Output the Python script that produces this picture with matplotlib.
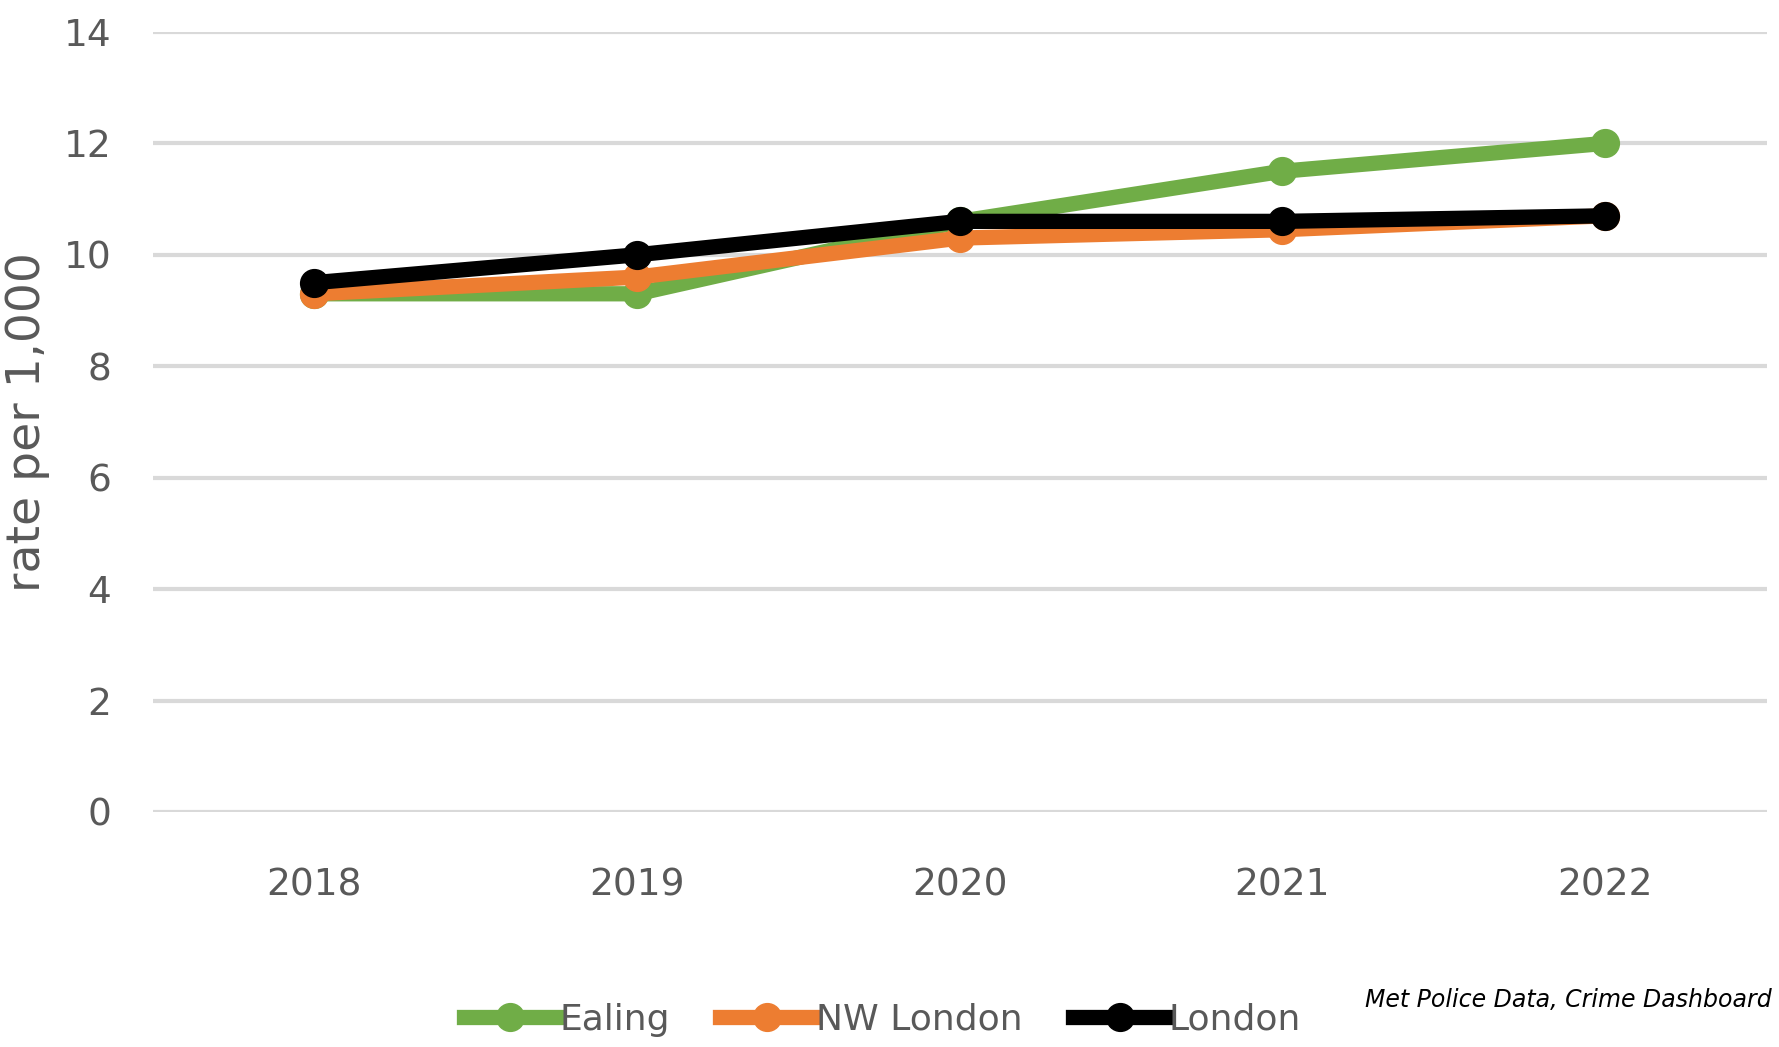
import matplotlib
matplotlib.use("Agg")
import matplotlib.pyplot as plt

# Datos (tasa por 1.000 habitantes)
years = ["2018", "2019", "2020", "2021", "2022"]
ealing = [9.3, 9.3, 10.6, 11.5, 12.0]
nw_london = [9.3, 9.6, 10.3, 10.45, 10.7]
london = [9.5, 10.0, 10.6, 10.6, 10.7]

series = [
    ("Ealing", ealing, "#70ad47"),
    ("NW London", nw_london, "#ed7d31"),
    ("London", london, "#000000"),
]

gris = "#595959"

fig = plt.figure(figsize=(17.79, 10.47), dpi=100)
ax = fig.add_axes([0.086, 0.2245, 0.907, 0.745])

x = list(range(len(years)))
for nombre, vals, color in series:
    ax.plot(x, vals, color=color, linewidth=11, marker="o", markersize=20,
            label=nombre)

ax.set_xlim(-0.5, len(years) - 0.5)
ax.set_ylim(0, 14)
ax.set_yticks(range(0, 15, 2))
ax.set_xticks(x)
ax.set_xticklabels(years)

ax.grid(axis="y", color="#d9d9d9", linewidth=3)
ax.set_axisbelow(True)
for s in ax.spines.values():
    s.set_visible(False)
ax.tick_params(axis="both", length=0, labelcolor=gris, labelsize=27)
ax.tick_params(axis="y", pad=30)
ax.tick_params(axis="x", pad=40)

ax.set_ylabel("rate per 1,000", fontsize=34, color=gris)
ax.yaxis.set_label_coords(-0.064, 0.5)

leg = fig.legend(loc="center", bbox_to_anchor=(0.496, 0.026), ncol=3, frameon=False,
                 prop={"size": 26}, handlelength=2.6, handletextpad=0.05,
                 columnspacing=1.4)
for t in leg.get_texts():
    t.set_color(gris)

fig.text(0.996, 0.045, "Met Police Data, Crime Dashboard", ha="right", va="center",
         fontsize=17, style="italic", color="#000000")

fig.savefig("out.png", dpi=100)
